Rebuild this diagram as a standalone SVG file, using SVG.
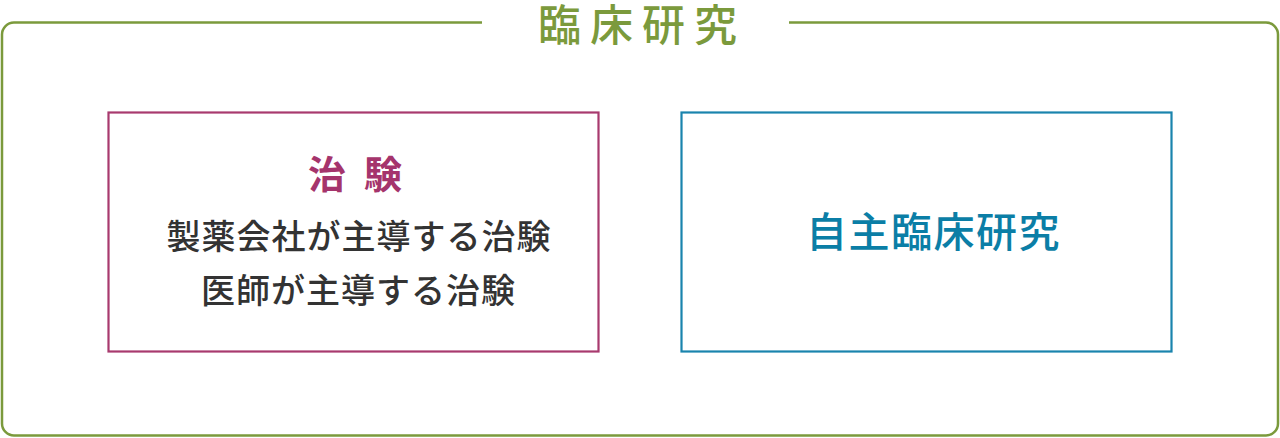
<svg xmlns="http://www.w3.org/2000/svg" width="1280" height="438" viewBox="0 0 1280 438">
<style>
text{font-family:"Noto Sans CJK JP","Noto Sans CJK SC",sans-serif}
.frame{fill:none;stroke:#7b9a3c;stroke-width:2.5}
.box{fill:#fff;stroke-width:2.2}
.title{fill:#7b9a3c;font-size:43px;font-weight:500;letter-spacing:9px}
.body{fill:#333;font-size:34px;font-weight:500;letter-spacing:1px}
</style>
<g id="clinical-research">
<path class="frame" d="M482,22.5 H14 A12,12 0 0 0 2,34.5 V423.5 A12,12 0 0 0 14,435.5 H1266 A12,12 0 0 0 1278,423.5 V34.5 A12,12 0 0 0 1266,22.5 H789"/>
<text class="title" x="642" y="41" text-anchor="middle">臨床研究</text>
</g>
<g id="chiken">
<rect class="box" x="108.5" y="112.5" width="490" height="239" stroke="#a83a6e"/>
<text x="364" y="187.5" text-anchor="middle" fill="#a5346c" font-size="38" font-weight="700" letter-spacing="18">治験</text>
<text class="body" x="359" y="249" text-anchor="middle">製薬会社が主導する治験</text>
<text class="body" x="358.5" y="302.5" text-anchor="middle">医師が主導する治験</text>
</g>
<g id="jishu">
<rect class="box" x="681.5" y="112.5" width="490" height="239" stroke="#1a84ad"/>
<text x="933.5" y="247" text-anchor="middle" fill="#0b7ea6" font-size="41" font-weight="500" letter-spacing="1.5">自主臨床研究</text>
</g>
<g id="connectors"/>
</svg>
